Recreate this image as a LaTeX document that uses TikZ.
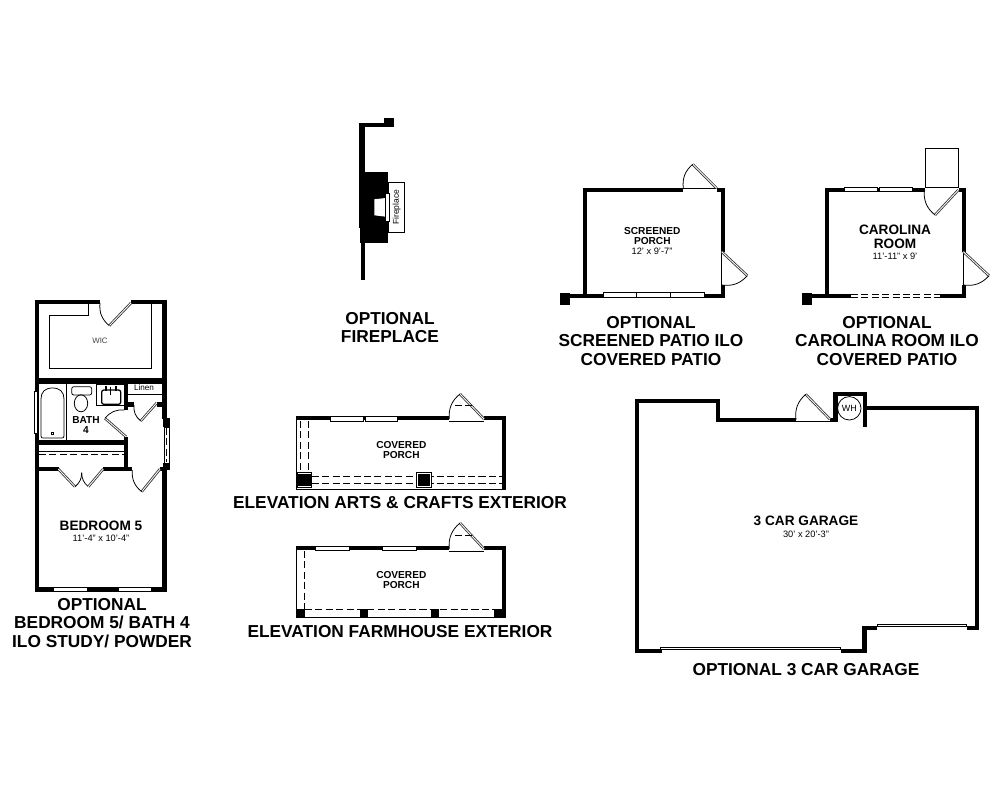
\documentclass[tikz,border=0pt]{standalone}
\usepackage{fontspec}
\setmainfont{Liberation Sans}
\begin{document}
\begin{tikzpicture}[x=0.025cm, y=-0.025cm, wall/.style={line width=3pt}, fine/.style={line width=.55pt}, win/.style={fill=white, draw=black, line width=.55pt}, leaf/.style={draw=black!80, double=white, double distance=.6pt, line width=.6pt}, swing/.style={line width=.55pt}, hid/.style={line width=.55pt, dash pattern=on 5pt off 2.4pt}, caption/.style={font=\fontsize{12.3}{13.35}\selectfont\bfseries, align=center, inner sep=0pt}, roomname/.style={font=\fontsize{9.7}{10}\selectfont\bfseries, align=center, inner sep=0pt}, roomsmall/.style={font=\fontsize{7.2}{7.1}\selectfont\bfseries, align=center, inner sep=0pt}, dims/.style={font=\fontsize{6.6}{7}\selectfont, align=center, inner sep=0pt}]
	\useasboundingbox[fill=white] (0,0) rectangle (1000,800);
	% bedroom 5 / bath 4
	\draw[wall] (100,302) -- (37,302) -- (37,589.5) -- (164.5,589.5) -- (164.5,470);
	\draw[wall] (131,302) -- (164.5,302) -- (164.5,419);
	\draw[wall,line width=4.2pt] (37,381) -- (164.5,381);
	\draw[wall,line width=3.4pt] (37,442.5) -- (126,442.5);
	\draw[wall] (126,381) -- (126,410);
	\draw[wall] (126,437) -- (126,469);
	\draw[wall] (126,404.5) -- (134,404.5);
	\draw[wall] (156.5,404.5) -- (164.5,404.5);
	\draw[wall] (37,469) -- (58.5,469);
	\draw[wall] (103,469) -- (132,469);
	\draw[wall] (160,469) -- (164.5,469);
	\fill (163.3,418) rectangle (170,427);
	\fill (163.3,463) rectangle (170,470);
	\draw[fine,fill=white] (164.5,427) rectangle (169,463);
	\draw[hid] (166.7,428) -- (166.7,462);
	\draw[fine] (88.3,304) -- (88.3,315.7) -- (49.3,315.7) -- (49.3,368.3) -- (151.7,368.3) -- (151.7,304);
	\draw[leaf] (131,303) -- (109.3,325.7);
	\draw[swing] (100,303) to[bend right=28] (109.3,325.7);
	\draw[fine] (128,394) -- (163,394);
	\draw[leaf] (156.7,403) -- (140.7,421);
	\draw[swing] (134,405) to[bend right=28] (140.7,421);
	\draw[leaf] (126,436.7) -- (105,418.3);
	\draw[swing] (105,418.3) to[bend left=28] (124.5,410);
	\draw[leaf] (160,469) -- (141.7,491.7);
	\draw[swing] (132.3,470) to[bend right=28] (141.7,491.7);
	\draw[leaf] (58.3,469) -- (75,486.7);
	\draw[swing] (75,486.7) to[bend right=25] (81.7,472.7);
	\draw[swing] (81.7,472.7) to[bend right=25] (88.3,486.7);
	\draw[leaf] (103.3,469) -- (88.3,486.7);
	\draw[fine] (39,451.5) -- (124,451.5);
	\draw[hid] (39,454.5) -- (124,454.5);
	\draw[win] (34.3,391.7) rectangle (37.7,433.3);
	\draw[fine] (41,436) -- (41,399) .. controls (41,392) and (45,388) .. (52.5,388) .. controls (60,388) and (64,392) .. (64,399) -- (64,436) .. controls (64,437.5) and (63,438) .. (62,438) -- (43,438) .. controls (42,438) and (41,437.5) .. (41,436) -- cycle;
	\draw[fine] (51.3,432) rectangle (53.6,434.3);
	\draw[fine] (66.7,384) -- (66.7,440);
	\draw[fine,rounded corners=1.5pt] (71.7,386.7) rectangle (91.7,395);
	\draw[fine] (81,403.3) ellipse (6.7 and 8.5);
	\draw[fine] (96.7,384) rectangle (124.3,405.7);
	\draw[line width=.9pt,rounded corners=1.5pt] (101.7,390) rectangle (120.7,404.3);
	\draw[line width=1pt] (110.7,386.7) -- (110.7,395);
	\fill (104.5,386) rectangle (106.5,391);
	\fill (115,386) rectangle (117,391);
	\draw[win] (53,587.8) rectangle (87,591);
	\draw[win] (118,587.8) rectangle (151,591);
	\node[font=\fontsize{5.6}{6}\selectfont, text=black!75, inner sep=0pt] (wic) at (100,341) {WIC};
	\node[font=\fontsize{5.8}{6}\selectfont, inner sep=0pt] (linen) at (144,388) {Linen};
	\node[roomsmall] (bath) at (86,425.3) {BATH\\4};
	\node[roomname] (bedroom) at (101,526) {BEDROOM 5};
	\node[dims] (bedroomdim) at (101,538) {11'-4" x 10'-4"};
	\node[caption] (bedroomcap) at (102,623) {OPTIONAL\\BEDROOM 5/ BATH 4\\ILO STUDY/ POWDER};
	% fireplace
	\fill (359.3,122.7) rectangle (385,127.3);
	\fill (384.3,118.3) rectangle (394,127.3);
	\fill (359.3,122.7) rectangle (365,228);
	\fill (361,228) rectangle (365,280);
	\fill (360,172) rectangle (388,243.5);
	\fill[white] (374.3,199.3) -- (385.7,198) -- (385.7,216.7) -- (374.3,215.3) -- cycle;
	\draw[fine,fill=white] (388,182.3) rectangle (404.3,232.3);
	\draw[fine,fill=white] (385.7,193.3) rectangle (389.3,221);
	\node[rotate=90, font=\fontsize{6}{6}\selectfont, inner sep=0pt] (fireplace) at (396.7,207.3) {Fireplace};
	\node[caption] (fireplacecap) at (390,327.5) {OPTIONAL\\FIREPLACE};
	% screened porch
	\draw[wall] (585,298) -- (585,189.7) -- (683.3,189.7);
	\draw[wall] (716.7,189.7) -- (723,189.7) -- (723,251.7);
	\draw[wall] (723,285) -- (723,296) -- (704,296);
	\draw[wall] (603.3,296) -- (560,296);
	\fill (560,293.3) rectangle (570,305);
	\draw[win] (587,190) rectangle (680,191.6);
	\foreach \xp in {587,633} \fill (\xp-1,187.7) rectangle (\xp+1,191);
	\draw[fine] (683.3,188.3) -- (716.7,188.3);
	\draw[leaf] (716.7,188.3) -- (692.7,164.3);
	\draw[swing] (683.3,188.3) to[bend left=28] (692.7,164.3);
	\draw[fine] (721.7,251.7) -- (721.7,285);
	\draw[leaf] (721.7,251.7) -- (747.3,275.7);
	\draw[swing] (747.3,275.7) to[bend left=28] (721.7,285);
	\draw[win] (603.3,292.3) rectangle (704,297.7);
	\foreach \xp in {636.7,670} \draw[line width=.7pt] (\xp,292.3) -- (\xp,297.7);
	\node[roomsmall] (screened) at (652.3,236.3) {SCREENED\\PORCH};
	\node[dims] (screeneddim) at (652,251) {12' x 9'-7"};
	\node[caption] (screenedcap) at (651,341) {OPTIONAL\\SCREENED PATIO ILO\\COVERED PATIO};
	% carolina room
	\draw[wall] (826.7,298) -- (826.7,189.7) -- (925.3,189.7);
	\draw[wall] (958.7,189.7) -- (964.2,189.7) -- (964.2,251.7);
	\draw[wall] (964.2,285) -- (964.2,296) -- (940,296);
	\draw[wall] (850.7,296) -- (802.3,296);
	\fill (802.3,293.3) rectangle (811.7,305);
	\draw[win] (844.3,187.7) rectangle (877.7,191);
	\draw[win] (879,187.7) rectangle (912.3,191);
	\draw[fine] (925.3,187.7) -- (925.3,148.3) -- (958.7,148.3) -- (958.7,187.7) -- cycle;
	\draw[leaf] (958.3,190) -- (935,215);
	\draw[swing] (924.3,190) to[bend right=28] (935,215);
	\draw[fine] (963.3,251.7) -- (963.3,285);
	\draw[leaf] (963.3,251.7) -- (989,275.7);
	\draw[swing] (989,275.7) to[bend left=28] (963.3,285);
	\draw[hid] (851,294.3) -- (940,294.3);
	\draw[hid] (851,297.7) -- (940,297.7);
	\node[roomname] (carolina) at (895,236.5) {CAROLINA\\ROOM};
	\node[dims] (carolinadim) at (895,256) {11'-11" x 9'};
	\node[caption] (carolinacap) at (887,341) {OPTIONAL\\CAROLINA ROOM ILO\\COVERED PATIO};
	% covered porch, arts and crafts
	\draw[fine] (296,418) -- (296,489) -- (504,489);
	\draw[wall] (296,418.3) -- (449.3,418.3);
	\draw[wall] (484,418.3) -- (504,418.3) -- (504,490);
	\draw[win] (330.7,416.7) rectangle (363.3,421);
	\draw[win] (365,416.7) rectangle (397.3,421);
	\draw[fine] (449.3,421) -- (484,421);
	\draw[leaf] (484,419) -- (460,394);
	\draw[swing] (449.3,419) to[bend left=28] (460,394);
	\draw[hid] (455,405.7) -- (473,405.7);
	\draw[hid] (300.7,421) -- (300.7,472);
	\draw[hid] (308.3,421) -- (308.3,472);
	\draw[hid] (312,476) -- (502,476);
	\draw[hid] (312,483.3) -- (502,483.3);
	\draw[fine,fill=white] (297,472.3) rectangle (311.7,487.3);
	\fill (298.3,474) rectangle (310.7,486);
	\draw[fine,fill=white] (416.7,472.3) rectangle (431.7,487.3);
	\fill (418.3,474.3) rectangle (430.3,486);
	\node[roomsmall] (porcha) at (401.3,450.3) {COVERED\\PORCH};
	\node[caption] (porchacap) at (400,502.3) {ELEVATION ARTS \& CRAFTS EXTERIOR};
	% covered porch, farmhouse
	\draw[fine] (296,548) -- (296,617.7) -- (504,617.7);
	\draw[wall] (296,548.3) -- (449.3,548.3);
	\draw[wall] (484,548.3) -- (504,548.3) -- (504,618.3);
	\draw[win] (315.7,546.7) rectangle (349,550.5);
	\draw[win] (382.7,546.7) rectangle (416,550.5);
	\draw[fine] (449.3,551) -- (484,551);
	\draw[leaf] (484,549) -- (460,523);
	\draw[swing] (449.3,549) to[bend left=28] (460,523);
	\draw[hid] (455,535.7) -- (473,535.7);
	\draw[hid] (304.3,551) -- (304.3,609);
	\draw[hid] (305,609.7) -- (494,609.7);
	\fill (296,609) rectangle (305,617.7);
	\fill (360,609) rectangle (367.7,617.7);
	\fill (431,609) rectangle (439,617.7);
	\fill (494,609) rectangle (505.7,617.7);
	\node[roomsmall] (porchb) at (401.3,580) {COVERED\\PORCH};
	\node[caption] (porchbcap) at (400,632) {ELEVATION FARMHOUSE EXTERIOR};
	% 3 car garage
	\draw[wall] (661.7,651) -- (637,651) -- (637,400.7) -- (718.2,400.7) -- (718.2,419.7) -- (796,419.7);
	\draw[wall] (830,419.7) -- (835.5,419.7);
	\draw[wall] (835.5,421.7) -- (835.5,394.2) -- (864.7,394.2) -- (864.7,426.7);
	\draw[wall] (864.7,407.8) -- (977,407.8) -- (977,628.3) -- (966.7,628.3);
	\draw[wall] (877.3,628.3) -- (864.5,628.3) -- (864.5,651) -- (840.7,651);
	\draw[fine] (796,421.7) -- (830,421.7);
	\draw[leaf] (830,419.3) -- (805.7,394.3);
	\draw[swing] (796,420) to[bend left=28] (805.7,394.3);
	\node[draw, circle, fine, minimum size=23.4*0.711pt, font=\fontsize{6.4}{6}\selectfont, inner sep=0pt] (wh) at (849.3,408.3) {WH};
	\draw[win] (660.7,647.3) rectangle (840.7,649.3);
	\draw[win] (877.3,624) rectangle (966.7,626);
	\node[roomname] (garage) at (806,521) {3 CAR GARAGE};
	\node[dims] (garagedim) at (806,534) {30' x 20'-3"};
	\node[caption] (garagecap) at (806,670) {OPTIONAL 3 CAR GARAGE};
\end{tikzpicture}
\end{document}
